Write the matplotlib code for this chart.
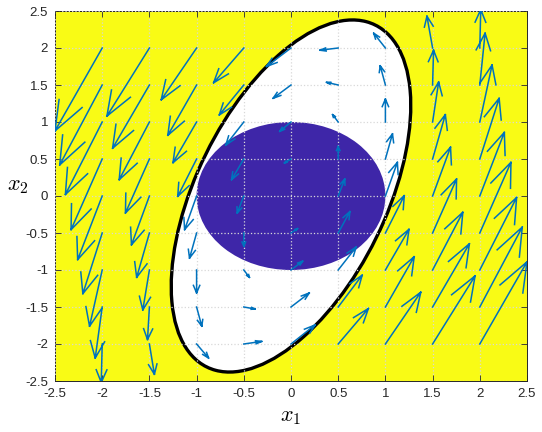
#phase portrait with region of attraction estimate
import matplotlib
matplotlib.use('Agg')
import matplotlib.pyplot as plt
from matplotlib.patches import Ellipse
import numpy as np

plt.rcParams['mathtext.fontset'] = 'cm'
plt.rcParams['axes.unicode_minus'] = False
plt.rcParams['font.family'] = ['Liberation Sans', 'DejaVu Sans']

# grid of arrow tails
xs = [-2, -1.5, -1, -0.5, 0, 0.5, 1, 1.5, 2]
ys = [2, 1.5, 1, 0.5, 0, -0.5, -1, -1.5, -2]

# arrow components (as drawn), rows follow ys, columns follow xs
U = [[-0.50, -0.45, -0.375, -0.32, -0.26, -0.194, -0.124, -0.06, 0.01],
     [-0.45, -0.39, -0.305, -0.26, -0.19, -0.124, -0.055, 0.01, 0.056],
     [-0.39, -0.32, -0.25, -0.19, -0.12, -0.06, 0.0, 0.064, 0.13],
     [-0.33, -0.254, -0.20, -0.13, -0.07, 0.0, 0.075, 0.135, 0.205],
     [-0.26, -0.19, -0.127, -0.07, 0.0, 0.07, 0.127, 0.19, 0.26],
     [-0.205, -0.135, -0.075, 0.0, 0.07, 0.124, 0.20, 0.254, 0.33],
     [-0.134, -0.07, 0.0, 0.06, 0.124, 0.19, 0.25, 0.32, 0.39],
     [-0.074, -0.02, 0.055, 0.12, 0.194, 0.254, 0.305, 0.39, 0.45],
     [-0.01, 0.053, 0.127, 0.19, 0.254, 0.32, 0.375, 0.45, 0.50]]
V = [[-1.12, -0.92, -0.70, -0.47, -0.25, -0.03, 0.20, 0.43, 0.52],
     [-1.08, -0.855, -0.68, -0.405, -0.18, 0.036, 0.26, 0.47, 0.70],
     [-0.98, -0.78, -0.55, -0.31, -0.127, 0.10, 0.31, 0.54, 0.77],
     [-0.955, -0.73, -0.505, -0.28, -0.054, 0.17, 0.34, 0.60, 0.82],
     [-0.86, -0.66, -0.455, -0.23, 0.0, 0.23, 0.455, 0.66, 0.86],
     [-0.82, -0.60, -0.34, -0.18, 0.06, 0.29, 0.505, 0.73, 0.955],
     [-0.76, -0.54, -0.31, -0.10, 0.12, 0.31, 0.55, 0.78, 0.98],
     [-0.69, -0.44, -0.26, -0.027, 0.19, 0.43, 0.68, 0.855, 1.08],
     [-0.52, -0.41, -0.19, 0.035, 0.257, 0.48, 0.70, 0.92, 1.11]]

# level set x' inv(Q) x = 1 (outer ellipse) and unit disc
Q = [[1.61, 1.55], [1.55, 5.66]]
disc_radius = 1.0

ticks = [-2.5, -2, -1.5, -1, -0.5, 0, 0.5, 1, 1.5, 2, 2.5]

yellow = '#f9fb15'
indigo = '#3e26a8'
arrow_col = '#0072bd'

fig = plt.figure(figsize=(5.42, 4.32), dpi=100)
ax = fig.add_axes([55/542, 1 - 381/432, 472/542, 370/432])
ax.set_facecolor(yellow)

# outer ellipse from eigen-decomposition of Q
w, vec = np.linalg.eigh(np.array(Q))
ang = np.degrees(np.arctan2(vec[1, 1], vec[0, 1]))
ell = Ellipse((0, 0), 2*np.sqrt(w[1]), 2*np.sqrt(w[0]), angle=ang,
              facecolor='white', edgecolor='none', zorder=1)
ax.add_patch(ell)
ax.add_patch(Ellipse((0, 0), 2*disc_radius, 2*disc_radius,
                     facecolor=indigo, edgecolor='none', zorder=1.2))
ax.add_patch(Ellipse((0, 0), 2*np.sqrt(w[1]), 2*np.sqrt(w[0]), angle=ang,
                     facecolor='none', edgecolor='black', lw=2.4, zorder=1.5))

# quiver, matlab style open heads
X, Y = np.meshgrid(xs, ys)
X = X.ravel(); Y = Y.ravel()
u = np.array(U).ravel(); v = np.array(V).ravel()
a = 0.33
b = 0.33
px, py = [], []
for i in range(len(X)):
    if u[i] == 0 and v[i] == 0:
        continue
    tx, ty = X[i] + u[i], Y[i] + v[i]
    px += [X[i], tx, np.nan,
           tx - a*(u[i] + b*v[i]), tx, tx - a*(u[i] - b*v[i]), np.nan]
    py += [Y[i], ty, np.nan,
           ty - a*(v[i] - b*u[i]), ty, ty - a*(v[i] + b*u[i]), np.nan]
ax.plot(px, py, color=arrow_col, lw=1.1, zorder=3)

ax.set_xlim(-2.5, 2.5)
ax.set_ylim(-2.5, 2.5)
ax.set_xticks(ticks)
ax.set_yticks(ticks)
ax.set_xticklabels(['%g' % t for t in ticks])
ax.set_yticklabels(['%g' % t for t in ticks])
ax.set_axisbelow(False)
ax.grid(True, linestyle=':', color='#d8d8d8', lw=0.9)
ax.tick_params(direction='in', top=True, right=True, length=4, width=0.6,
               labelsize=9.5, colors='#262626', pad=5)
for s in ax.spines.values():
    s.set_color('#262626')
    s.set_linewidth(0.7)

ax.set_xlabel('$x_1$', fontsize=16)
ax.xaxis.set_label_coords(0.5, -0.068)
ax.set_ylabel('$x_2$', fontsize=16, rotation=0)
ax.yaxis.set_label_coords(-0.078, 0.5)

plt.savefig('out.png', dpi=100)
